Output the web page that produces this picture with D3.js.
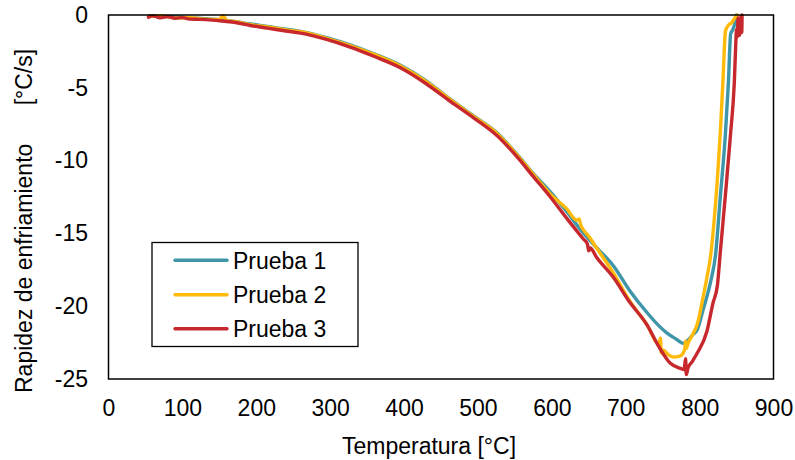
<!DOCTYPE html>
<html>
<head>
<meta charset="utf-8">
<script src="https://cdn.jsdelivr.net/npm/d3@7/dist/d3.min.js"></script>
<style>
  html, body { margin: 0; padding: 0; background: #fff; }
  svg { display: block; font-family: "Liberation Sans", Arial, sans-serif; }
</style>
</head>
<body>
<svg id="chart" width="795" height="460"></svg>
<script>
// ---- Data ----
const seriesNames = ["Prueba 1", "Prueba 2", "Prueba 3"];
const seriesColors = ["#3F96A9", "#FFBA0A", "#C6282D"];

// Prueba 1
const temp1 = [55, 70, 90, 110, 130, 150, 170, 192, 215, 240, 260, 295, 327, 360, 395, 430, 463, 495, 526, 553, 575, 598, 620, 639, 660, 683, 705, 729, 745, 756, 768, 778, 785, 790, 797, 805, 815, 821.5, 828, 835, 839, 842, 845, 848, 850];
const rate1 = [-0.05, -0.1, -0.12, -0.2, -0.25, -0.33, -0.45, -0.62, -0.78, -0.98, -1.12, -1.55, -2.05, -2.68, -3.45, -4.52, -5.8, -6.97, -8.1, -9.58, -10.9, -12.15, -13.5, -14.75, -15.95, -17.2, -18.9, -20.45, -21.35, -21.85, -22.25, -22.55, -22.3, -22.0, -21.6, -20.2, -18.3, -16.5, -12.5, -8.1, -4.6, -1.3, -1.0, -0.5, 0];

// Prueba 2
const temp2 = [55, 70, 90, 110, 130, 150, 155, 160, 170, 192, 215, 240, 260, 295, 327, 360, 395, 430, 463, 495, 526, 553, 575, 598, 620, 634, 637, 639, 642, 650, 660, 683, 705, 729, 745, 747, 748, 750, 758, 765, 772, 778, 780, 781, 782, 784, 790, 797, 805, 810, 815, 819, 824, 828, 831.5, 835, 839, 844, 847, 851];
const rate2 = [-0.1, -0.05, -0.2, -0.18, -0.28, -0.3, -0.05, -0.38, -0.45, -0.66, -0.82, -1.02, -1.15, -1.6, -2.1, -2.72, -3.5, -4.57, -5.83, -7.0, -8.15, -9.62, -10.95, -12.3, -13.3, -14.1, -14.0, -14.4, -14.7, -15.2, -15.95, -17.7, -19.6, -21.3, -22.6, -22.2, -23.2, -23.0, -23.35, -23.5, -23.45, -23.2, -22.9, -22.4, -22.9, -22.6, -22.0, -21.2, -19.3, -18.0, -16.5, -14.5, -11.3, -8.1, -4.6, -1.1, -0.7, -0.5, -0.25, 0];

// Prueba 3
const temp3 = [54, 60, 70, 80, 90, 100, 110, 124, 140, 160, 170, 192, 215, 240, 260, 295, 327, 360, 395, 430, 463, 495, 526, 553, 575, 598, 620, 643, 648, 650, 652, 660, 683, 705, 729, 745, 760, 774, 779, 781, 782, 784, 790, 797, 810, 818, 824, 828, 835, 842, 847, 849, 850, 851, 852, 854, 856, 857, 857.5];
const rate3 = [-0.15, -0.05, -0.2, -0.1, -0.22, -0.18, -0.28, -0.3, -0.35, -0.45, -0.5, -0.72, -0.9, -1.1, -1.25, -1.68, -2.2, -2.85, -3.62, -4.72, -5.95, -7.1, -8.3, -9.75, -11.1, -12.5, -13.95, -15.4, -15.7, -16.2, -16.0, -16.6, -18.0, -19.7, -21.3, -22.8, -23.9, -24.27, -24.35, -23.6, -24.7, -24.3, -23.8, -23.2, -21.7, -19.8, -18.6, -16.3, -12.3, -8.1, -4.6, -1.9, -1.0, -1.5, -0.2, -1.4, -0.1, -1.2, 0];

const xTicks = [0, 100, 200, 300, 400, 500, 600, 700, 800, 900];
const yTicks = [0, -5, -10, -15, -20, -25];
const xTitle = "Temperatura [°C]";
const yTitle = "Rapidez de enfriamiento      [°C/s]";

// ---- Layout ----
const svg = d3.select("#chart");
const L = 108.5, R = 773.5, T = 15, B = 379;
const x = d3.scaleLinear().domain([0, 900]).range([L, R]);
const y = d3.scaleLinear().domain([-25, 0]).range([B, T]);
const fontSize = 23;

// axes (labels only)
const xAxis = svg.append("g").attr("transform", `translate(0,${B})`)
  .call(d3.axisBottom(x).tickValues(xTicks).tickSize(0).tickPadding(21).tickFormat(d => String(d)));
const yAxis = svg.append("g").attr("transform", `translate(${L},0)`)
  .call(d3.axisLeft(y).tickValues(yTicks).tickSize(0).tickPadding(20.5).tickFormat(d => String(d)));
[xAxis, yAxis].forEach(g => {
  g.select(".domain").remove();
  g.selectAll("text").attr("font-size", fontSize).attr("fill", "#000")
    .attr("font-family", "'Liberation Sans', Arial, sans-serif");
});

// series
const data = [
  temp1.map((t, i) => [t, rate1[i]]),
  temp2.map((t, i) => [t, rate2[i]]),
  temp3.map((t, i) => [t, rate3[i]])
];
const line = d3.line().curve(d3.curveMonotoneX).x(d => x(d[0])).y(d => y(d[1]));
data.forEach((s, i) => {
  svg.append("path").datum(s)
    .attr("d", line)
    .attr("fill", "none")
    .attr("stroke", seriesColors[i])
    .attr("stroke-width", 3.4)
    .attr("stroke-linejoin", "round")
    .attr("stroke-linecap", "round");
});

// plot frame
svg.append("rect").attr("x", L).attr("y", T).attr("width", R - L).attr("height", B - T)
  .attr("fill", "none").attr("stroke", "#000").attr("stroke-width", 1.5);

// axis titles
svg.append("text").attr("x", 429).attr("y", 454).attr("text-anchor", "middle")
  .attr("font-size", fontSize).attr("fill", "#000").text(xTitle);
svg.append("text")
  .attr("transform", "translate(31.5,393) rotate(-90)")
  .attr("text-anchor", "start")
  .style("white-space", "pre")
  .attr("font-size", fontSize).attr("fill", "#000").text(yTitle);

// legend
const lg = svg.append("g");
lg.append("rect").attr("x", 152).attr("y", 242.5).attr("width", 206).attr("height", 104)
  .attr("fill", "#fff").attr("stroke", "#000").attr("stroke-width", 1.3);
const rowY = [260.3, 294.7, 328.7];
seriesNames.forEach((n, i) => {
  lg.append("line").attr("x1", 175).attr("x2", 227).attr("y1", rowY[i]).attr("y2", rowY[i])
    .attr("stroke", seriesColors[i]).attr("stroke-width", 3.4).attr("stroke-linecap", "round");
  lg.append("text").attr("x", 233).attr("y", rowY[i] + 8.3)
    .attr("font-size", fontSize).attr("fill", "#000").text(n);
});
</script>
</body>
</html>
